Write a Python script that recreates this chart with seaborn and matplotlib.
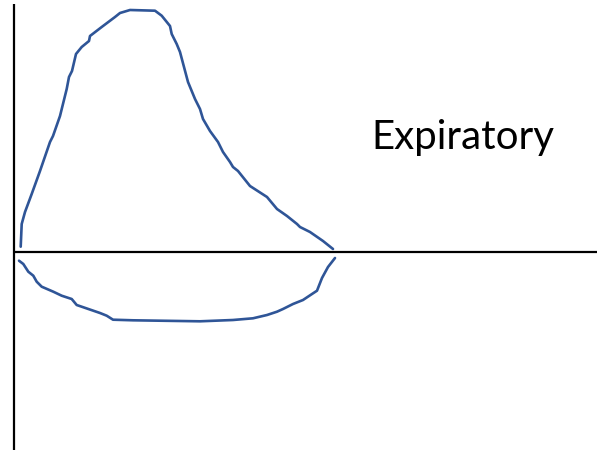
import pandas as pd
import matplotlib.pyplot as plt
import seaborn as sns

# expiratory limb (volume, flow)
exp_volume = [6.7, 7.7, 11, 17.7, 26, 36, 39, 46, 52.7, 55, 58, 62, 67.7, 75, 76, 87.7,
              101, 106, 116, 141, 147.7, 156, 157.7, 162.7, 166, 174, 181, 186, 189, 196,
              204, 209, 216, 219, 224, 236, 253, 263, 273, 283, 286, 296, 309, 319]
exp_flow = [5.3, 28, 40, 58, 81, 110, 116, 136, 163, 175, 181, 198, 205, 211, 216, 225,
            235, 239, 242, 241.3, 236.3, 226, 218, 208, 200, 170, 153, 143, 133, 121,
            110, 100, 90, 85, 81, 66, 55, 43, 36, 28, 25, 20, 11, 3]

# inspiratory limb
insp_volume = [5, 9.3, 14.3, 19.3, 22.7, 27.7, 39.3, 47.7, 57.7, 62.7, 86, 92.7, 99, 119,
               186, 219, 239, 253, 263, 269, 279, 289, 298, 303, 308, 314, 321]
insp_flow = [-8.7, -12, -19.7, -23.7, -29.7, -34.7, -39.7, -43.7, -47, -53, -61, -63.7,
             -67.7, -68.3, -69.3, -68, -66.3, -63, -59.7, -57, -52, -48, -42, -38.7, -26,
             -15, -6]

label = 'Expiratory'

exp_df = pd.DataFrame({'volume': exp_volume, 'flow': exp_flow})
insp_df = pd.DataFrame({'volume': insp_volume, 'flow': insp_flow})

sns.set_style('white')
plt.rcParams['font.family'] = ['Lato', 'DejaVu Sans']

fig = plt.figure(figsize=(5.97, 4.52), dpi=100)
ax = fig.add_axes([0, 0, 1, 1])

line_color = '#2f5597'
sns.lineplot(data=exp_df, x='volume', y='flow', sort=False, color=line_color, linewidth=1.9, ax=ax)
sns.lineplot(data=insp_df, x='volume', y='flow', sort=False, color=line_color, linewidth=1.9, ax=ax)

# hand drawn axes
ax.plot([0, 583], [0, 0], color='black', linewidth=1.6, solid_capstyle='butt')
ax.plot([0, 0], [248, -198], color='black', linewidth=1.6, solid_capstyle='butt')

ax.text(448.5, 104, label, fontsize=29, ha='center', va='baseline', color='black')

ax.set_xlim(-14, 583)
ax.set_ylim(-199, 253)
ax.set_axis_off()

plt.savefig('out.png', dpi=100)
